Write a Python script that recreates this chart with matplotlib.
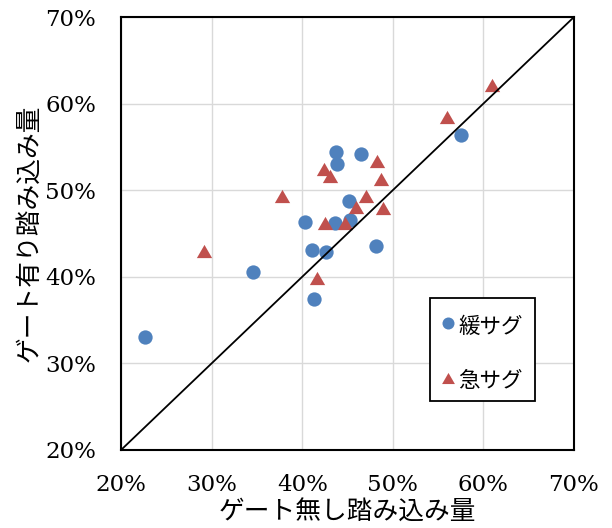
import matplotlib.pyplot as plt
from matplotlib.patches import Rectangle
from matplotlib.ticker import FuncFormatter

# 踏み込み量 (%) : ゲート無し / ゲート有り
kanwa_x = [22.6, 34.6, 40.3, 41.1, 42.6, 41.3, 43.6, 43.7, 43.8, 46.5, 45.2, 45.3, 48.1, 57.5]
kanwa_y = [33.0, 40.5, 46.3, 43.1, 42.9, 37.4, 46.2, 54.4, 53.0, 54.2, 48.7, 46.6, 43.5, 56.4]

kyu_x = [29.2, 37.8, 42.4, 43.1, 42.5, 41.6, 44.7, 45.9, 47.0, 48.3, 48.7, 48.9, 56.0, 60.9]
kyu_y = [43.0, 49.3, 52.4, 51.6, 46.2, 39.9, 46.2, 48.1, 49.3, 53.4, 51.3, 48.0, 58.5, 62.2]

diag = [20, 70]
ticks = [20, 30, 40, 50, 60, 70]

blue = '#4F81BD'
red = '#C0504D'
jp_font = ['Noto Sans CJK JP', 'DejaVu Sans']

# equilateral triangle marker
tri = [(-1, -0.866), (1, -0.866), (0, 0.866), (-1, -0.866)]

fig = plt.figure(figsize=(6.12, 5.28), dpi=100)
ax = fig.add_axes([121 / 612, 78 / 528, 453 / 612, 433 / 528])

ax.plot(kanwa_x, kanwa_y, linestyle='none', marker='o', markersize=10.3,
        color=blue, markeredgewidth=0, label='緩サグ', zorder=3)
ax.plot(kyu_x, kyu_y, linestyle='none', marker=tri, markersize=11,
        color=red, markeredgewidth=0, label='急サグ', zorder=3)
# y = x reference line, drawn over the points
ax.plot(diag, diag, color='black', linewidth=1.3, zorder=4)

ax.set_xlim(20, 70)
ax.set_ylim(20, 70)
ax.set_xticks(ticks)
ax.set_yticks(ticks)
pct = FuncFormatter(lambda v, p: '%d%%' % v)
ax.xaxis.set_major_formatter(pct)
ax.yaxis.set_major_formatter(pct)
ax.tick_params(length=0, labelsize=16.5)
ax.tick_params(axis='x', pad=17)
ax.tick_params(axis='y', pad=18)
for lbl in ax.get_xticklabels() + ax.get_yticklabels():
    lbl.set_fontfamily('DejaVu Serif')

ax.grid(True, color='#D9D9D9', linewidth=1.0, zorder=0)
ax.set_axisbelow(True)
for sp in ax.spines.values():
    sp.set_linewidth(1.5)
    sp.set_color('black')

ax.set_xlabel('ゲート無し踏み込み量', fontsize=18.5, family=jp_font, labelpad=3)
ax.set_ylabel('ゲート有り踏み込み量', fontsize=18.5, family=jp_font, labelpad=2)

# legend box drawn separately so its padding can be set freely
box = Rectangle((0.682, 0.1132), 0.2318, 0.2379, transform=ax.transAxes,
                facecolor='white', edgecolor='black', linewidth=1.3, zorder=5)
ax.add_patch(box)

leg = ax.legend(loc='upper left', bbox_to_anchor=(0.682, 0.3395),
                prop={'family': jp_font, 'size': 15.5}, frameon=False,
                markerscale=0.84, labelspacing=1.41, handlelength=0.65,
                handleheight=1.33, handletextpad=0.15,
                borderpad=0.5, borderaxespad=0)
leg.set_zorder(6)

fig.savefig('out.png', dpi=100)
